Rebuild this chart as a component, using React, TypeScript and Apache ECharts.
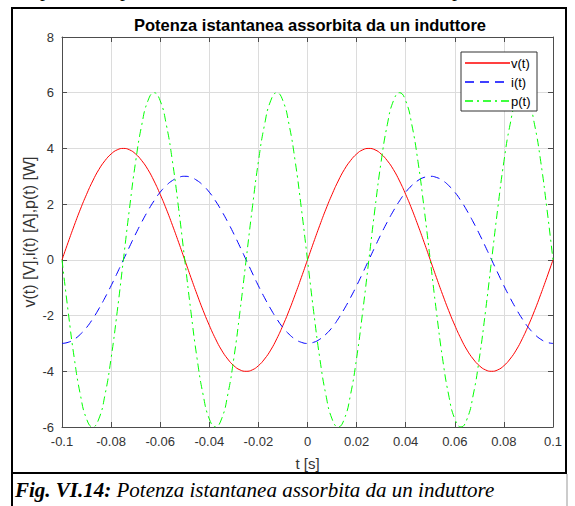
import React, { useEffect, useRef } from "react";
import * as echarts from "echarts";

const title = "Potenza istantanea assorbita da un induttore";
const xName = "t [s]";
const yName = "v(t) [V],i(t) [A],p(t) [W]";
const caption = "Potenza istantanea assorbita da un induttore";
const captionLabel = "Fig. VI.14:";
const seriesNames = ["v(t)", "i(t)", "p(t)"];

const tValues = [
  -0.1, -0.0975, -0.095, -0.0925, -0.09, -0.0875, -0.085, -0.0825, -0.08, -0.0775,
  -0.075, -0.0725, -0.07, -0.0675, -0.065, -0.0625, -0.06, -0.0575, -0.055, -0.0525,
  -0.05, -0.0475, -0.045, -0.0425, -0.04, -0.0375, -0.035, -0.0325, -0.03, -0.0275,
  -0.025, -0.0225, -0.02, -0.0175, -0.015, -0.0125, -0.01, -0.0075, -0.005, -0.0025,
  0, 0.0025, 0.005, 0.0075, 0.01, 0.0125, 0.015, 0.0175, 0.02, 0.0225,
  0.025, 0.0275, 0.03, 0.0325, 0.035, 0.0375, 0.04, 0.0425, 0.045, 0.0475,
  0.05, 0.0525, 0.055, 0.0575, 0.06, 0.0625, 0.065, 0.0675, 0.07, 0.0725,
  0.075, 0.0775, 0.08, 0.0825, 0.085, 0.0875, 0.09, 0.0925, 0.095, 0.0975,
  0.1,
];

const vValues = [
  0, 0.63, 1.24, 1.82, 2.35, 2.83, 3.24, 3.56, 3.8, 3.95,
  4, 3.95, 3.8, 3.56, 3.24, 2.83, 2.35, 1.82, 1.24, 0.63,
  0, -0.63, -1.24, -1.82, -2.35, -2.83, -3.24, -3.56, -3.8, -3.95,
  -4, -3.95, -3.8, -3.56, -3.24, -2.83, -2.35, -1.82, -1.24, -0.63,
  0, 0.63, 1.24, 1.82, 2.35, 2.83, 3.24, 3.56, 3.8, 3.95,
  4, 3.95, 3.8, 3.56, 3.24, 2.83, 2.35, 1.82, 1.24, 0.63,
  0, -0.63, -1.24, -1.82, -2.35, -2.83, -3.24, -3.56, -3.8, -3.95,
  -4, -3.95, -3.8, -3.56, -3.24, -2.83, -2.35, -1.82, -1.24, -0.63,
  0,
];

const iValues = [
  -3, -2.96, -2.85, -2.67, -2.43, -2.12, -1.76, -1.36, -0.93, -0.47,
  0, 0.47, 0.93, 1.36, 1.76, 2.12, 2.43, 2.67, 2.85, 2.96,
  3, 2.96, 2.85, 2.67, 2.43, 2.12, 1.76, 1.36, 0.93, 0.47,
  0, -0.47, -0.93, -1.36, -1.76, -2.12, -2.43, -2.67, -2.85, -2.96,
  -3, -2.96, -2.85, -2.67, -2.43, -2.12, -1.76, -1.36, -0.93, -0.47,
  0, 0.47, 0.93, 1.36, 1.76, 2.12, 2.43, 2.67, 2.85, 2.96,
  3, 2.96, 2.85, 2.67, 2.43, 2.12, 1.76, 1.36, 0.93, 0.47,
  0, -0.47, -0.93, -1.36, -1.76, -2.12, -2.43, -2.67, -2.85, -2.96,
  -3,
];

const pValues = [
  0, -1.85, -3.53, -4.85, -5.71, -6, -5.71, -4.85, -3.53, -1.85,
  0, 1.85, 3.53, 4.85, 5.71, 6, 5.71, 4.85, 3.53, 1.85,
  0, -1.85, -3.53, -4.85, -5.71, -6, -5.71, -4.85, -3.53, -1.85,
  0, 1.85, 3.53, 4.85, 5.71, 6, 5.71, 4.85, 3.53, 1.85,
  0, -1.85, -3.53, -4.85, -5.71, -6, -5.71, -4.85, -3.53, -1.85,
  0, 1.85, 3.53, 4.85, 5.71, 6, 5.71, 4.85, 3.53, 1.85,
  0, -1.85, -3.53, -4.85, -5.71, -6, -5.71, -4.85, -3.53, -1.85,
  0, 1.85, 3.53, 4.85, 5.71, 6, 5.71, 4.85, 3.53, 1.85,
  0,
];

const xMin = -0.1;
const xMax = 0.1;
const xInterval = 0.02;
const yMin = -6;
const yMax = 8;
const yInterval = 2;

const pair = (ys: number[]) => tValues.map((t, k) => [t, ys[k]]);
const fmtX = (v: number) => String(parseFloat(v.toFixed(3)));

export default function App() {
  const ref = useRef<HTMLDivElement>(null);
  useEffect(() => {
    document.body.style.margin = "0";
    const chart = echarts.init(ref.current!, null, { renderer: "svg" });
    const axisColor = "#4d4d4d";
    const labelColor = "#333";
    const sans = "Liberation Sans, Arial, sans-serif";
    const serif = "Liberation Serif, Times New Roman, serif";
    const tickStyle = { show: true, inside: true, length: 5, lineStyle: { color: axisColor } };
    const lineAxis = { show: true, onZero: false, lineStyle: { color: axisColor } };
    const colors = ["#ff0000", "#0000ff", "#00ff00"];
    const dashes: any[] = ["solid", [9, 6], [8, 4, 2, 4]];
    const lineStyles = colors.map((c, k) => ({ color: c, width: 1, type: dashes[k] }));

    // legend box drawn as graphic (MATLAB-style)
    const lgX = 461;
    const lgY = 52;
    const lgW = 76;
    const lgRow = 19;
    const legendGraphics: any[] = [
      {
        type: "rect",
        shape: { x: lgX, y: lgY, width: lgW, height: lgRow * 3 + 2 },
        style: { fill: "#fff", stroke: "#333", lineWidth: 1 },
        z: 100,
        silent: true,
      },
    ];
    seriesNames.forEach((n, k) => {
      const cy = lgY + 11 + k * lgRow;
      legendGraphics.push({
        type: "line",
        shape: { x1: lgX + 4, y1: cy, x2: lgX + 49, y2: cy },
        style: {
          stroke: colors[k],
          lineWidth: 1.3,
          lineDash: Array.isArray(dashes[k]) ? dashes[k] : null,
        },
        z: 101,
        silent: true,
      });
      legendGraphics.push({
        type: "text",
        x: lgX + 50,
        y: cy,
        style: { text: n, fontFamily: sans, fontSize: 13, fill: "#000", verticalAlign: "middle", align: "left" },
        z: 101,
        silent: true,
      });
    });

    chart.setOption({
      animation: false,
      backgroundColor: "#fff",
      color: colors,
      title: {
        text: title,
        left: 305,
        textAlign: "center",
        top: 11,
        textStyle: { fontFamily: sans, fontSize: 16.5, fontWeight: "bold", color: "#000" },
      },
      grid: { left: 62, top: 37, right: 22, bottom: 79, containLabel: false },
      xAxis: [
        {
          type: "value",
          min: xMin,
          max: xMax,
          interval: xInterval,
          name: xName,
          nameLocation: "middle",
          nameGap: 29,
          nameMoveOverlap: false,
          nameTextStyle: { fontFamily: sans, fontSize: 15, color: labelColor },
          axisLine: lineAxis,
          axisTick: tickStyle,
          axisLabel: { fontFamily: sans, fontSize: 13, color: labelColor, margin: 8, formatter: fmtX },
          splitLine: { show: true, lineStyle: { color: "#dcdcdc" } },
        },
        {
          type: "value",
          position: "top",
          min: xMin,
          max: xMax,
          interval: xInterval,
          axisLine: lineAxis,
          axisTick: tickStyle,
          axisLabel: { show: false },
          splitLine: { show: false },
        },
      ],
      yAxis: [
        {
          type: "value",
          min: yMin,
          max: yMax,
          interval: yInterval,
          name: yName,
          nameLocation: "middle",
          nameGap: 25,
          nameMoveOverlap: false,
          nameTextStyle: { fontFamily: sans, fontSize: 16, color: labelColor },
          axisLine: lineAxis,
          axisTick: tickStyle,
          axisLabel: { fontFamily: sans, fontSize: 13, color: labelColor, margin: 8 },
          splitLine: { show: true, lineStyle: { color: "#dcdcdc" } },
        },
        {
          type: "value",
          position: "right",
          min: yMin,
          max: yMax,
          interval: yInterval,
          axisLine: lineAxis,
          axisTick: tickStyle,
          axisLabel: { show: false },
          splitLine: { show: false },
        },
      ],
      series: [vValues, iValues, pValues].map((vals, k) => ({
        name: seriesNames[k],
        type: "line",
        data: pair(vals),
        showSymbol: false,
        symbol: "none",
        smooth: true,
        lineStyle: lineStyles[k],
        itemStyle: { color: colors[k] },
      })),
      graphic: [
        {
          type: "rect",
          shape: { x: 12, y: 8, width: 554, height: 465 },
          style: { fill: "none", stroke: "#000", lineWidth: 2 },
          silent: true,
        },
        {
          type: "line",
          shape: { x1: 12, y1: 473, x2: 12, y2: 506 },
          style: { stroke: "#000", lineWidth: 2 },
          silent: true,
        },
        {
          type: "line",
          shape: { x1: 567, y1: 474, x2: 567, y2: 506 },
          style: { stroke: "#999", lineWidth: 1 },
          silent: true,
        },
        {
          type: "text",
          x: 15,
          y: 490,
          style: {
            text: "{b|" + captionLabel + "}{i| " + caption + "}",
            verticalAlign: "middle",
            rich: {
              b: { fontFamily: serif, fontSize: 21, fontStyle: "italic", fontWeight: "bold", fill: "#000" },
              i: { fontFamily: serif, fontSize: 21, fontStyle: "italic", fill: "#000" },
            },
          },
          silent: true,
        },
        ...[40, 120, 452].map((x) => ({
          type: "text",
          x,
          y: -11,
          style: { text: "p", fontFamily: serif, fontSize: 20, fill: "#000", verticalAlign: "middle" },
          silent: true,
        })),
        ...legendGraphics,
      ],
    });
    return () => chart.dispose();
  }, []);
  return <div ref={ref} style={{ width: 575, height: 506 }} />;
}
